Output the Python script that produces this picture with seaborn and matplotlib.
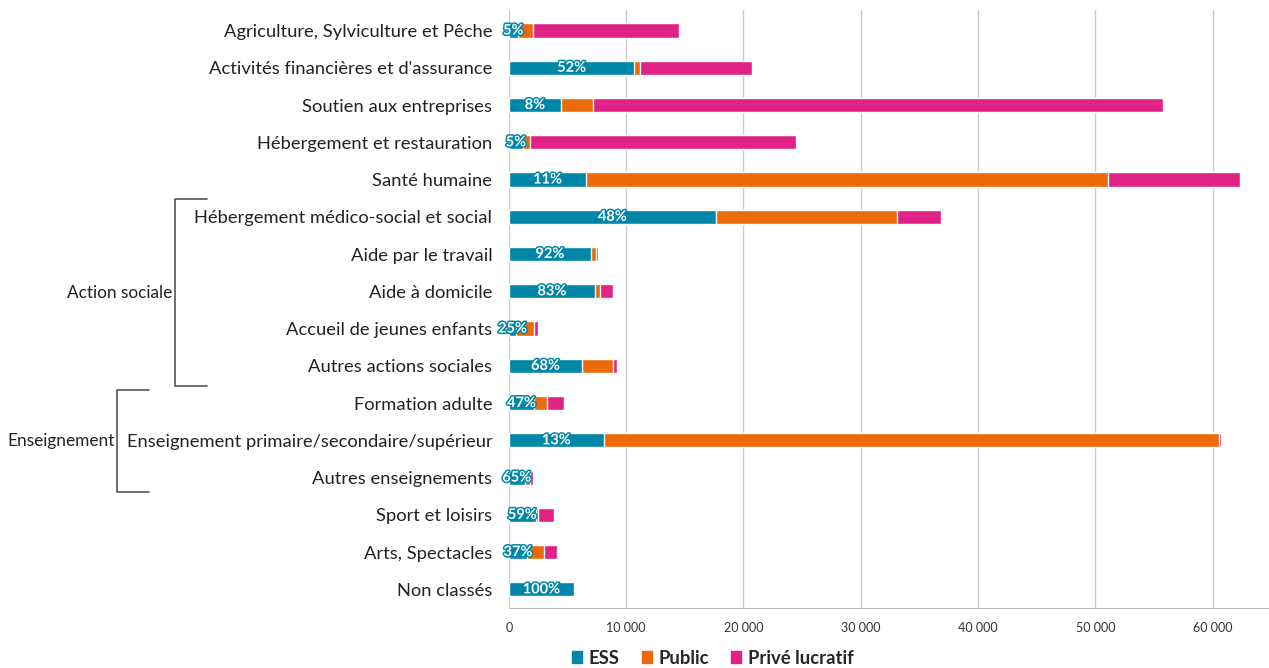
import numpy as np
import pandas as pd
import matplotlib
matplotlib.use("Agg")
import matplotlib.pyplot as plt
import matplotlib.patheffects as pe
from matplotlib.patches import Patch
import seaborn as sns

# donnees (effectifs par secteur)
secteurs = [
    "Agriculture, Sylviculture et Pêche",
    "Activités financières et d'assurance",
    "Soutien aux entreprises",
    "Hébergement et restauration",
    "Santé humaine",
    "Hébergement médico-social et social",
    "Aide par le travail",
    "Aide à domicile",
    "Accueil de jeunes enfants",
    "Autres actions sociales",
    "Formation adulte",
    "Enseignement primaire/secondaire/supérieur",
    "Autres enseignements",
    "Sport et loisirs",
    "Arts, Spectacles",
    "Non classés",
]
ess = [750, 10700, 4450, 1200, 6600, 17650, 7000, 7350, 620, 6250, 2150, 8100, 1350, 2300, 1550, 5560]
public = [1300, 450, 2740, 600, 44450, 15450, 430, 430, 1500, 2650, 1100, 52400, 430, 150, 1450, 0]
prive = [12450, 9550, 48560, 22650, 11250, 3750, 170, 1110, 360, 340, 1450, 180, 260, 1370, 1100, 0]
part_ess = ["5%", "52%", "8%", "5%", "11%", "48%", "92%", "83%", "25%", "68%",
            "47%", "13%", "65%", "59%", "37%", "100%"]

c_ess = "#0087A8"
c_pub = "#EC6A08"
c_priv = "#E02286"

df = pd.DataFrame({"secteur": secteurs, "ESS": ess, "Public": public, "Prive": prive})
df["cum_pub"] = df["ESS"] + df["Public"]
df["total"] = df["cum_pub"] + df["Prive"]

sns.set_style("white")
plt.rcParams["font.family"] = ["Lato", "DejaVu Sans"]

fig = plt.figure(figsize=(12.69, 6.68), dpi=100)
ax = fig.add_axes([0.401, 0.0898, 0.599, 0.8952])

# barres empilees : total, puis ESS+Public, puis ESS
w = 0.38
sns.barplot(data=df, x="total", y="secteur", color=c_priv, width=w, ax=ax, orient="h", saturation=1)
sns.barplot(data=df, x="cum_pub", y="secteur", color=c_pub, width=w, ax=ax, orient="h", saturation=1)
sns.barplot(data=df, x="ESS", y="secteur", color=c_ess, width=w, ax=ax, orient="h", saturation=1)

# pourcentages ESS
for i, (v, lab) in enumerate(zip(ess, part_ess)):
    ax.text(v / 2, i, lab, ha="center", va="center", color="white",
            fontsize=10.5, fontweight="bold",
            path_effects=[pe.withStroke(linewidth=2.2, foreground=c_ess)])

ax.set_xlim(0, 64800)
ax.set_ylim(15.5, -0.55)
ax.set_xticks(np.arange(0, 60001, 10000))
ax.set_xticklabels([f"{v:,}".replace(",", " ") for v in range(0, 60001, 10000)],
                   fontsize=9, color="#333333")
ax.grid(axis="x", color="#cccccc", linewidth=1)
ax.set_axisbelow(True)
ax.set_xlabel("")
ax.set_ylabel("")
for s in ["top", "right", "left"]:
    ax.spines[s].set_visible(False)
ax.spines["bottom"].set_color("#bbbbbb")
ax.tick_params(axis="x", length=4, color="#bbbbbb", pad=6)
ax.tick_params(axis="y", length=0, pad=12, labelsize=13.2, labelcolor="#222222")

# accolades des regroupements
def crochet(x, y0, y1, x2, label):
    fig.add_artist(plt.Line2D([x2, x, x, x2], [y0, y0, y1, y1],
                              transform=fig.transFigure, color="#555555", linewidth=1.2))
    fig.text(x - 0.002, (y0 + y1) / 2, label, ha="right", va="center",
             fontsize=12.4, color="#222222")

H, W = 668, 1269
crochet(175 / W, 1 - 199 / H, 1 - 386 / H, 207 / W, "Action sociale")
crochet(117 / W, 1 - 390 / H, 1 - 492 / H, 149 / W, "Enseignement")

handles = [Patch(color=c_ess, label="ESS"), Patch(color=c_pub, label="Public"),
           Patch(color=c_priv, label="Privé lucratif")]
fig.legend(handles=handles, loc="center", bbox_to_anchor=(713 / W, 1 - 658 / H), ncol=3,
           frameon=False, prop={"weight": "bold", "size": 13.3}, handlelength=0.55,
           handleheight=0.55, handletextpad=0.35, columnspacing=1.2)

fig.savefig("out.png", dpi=100)
